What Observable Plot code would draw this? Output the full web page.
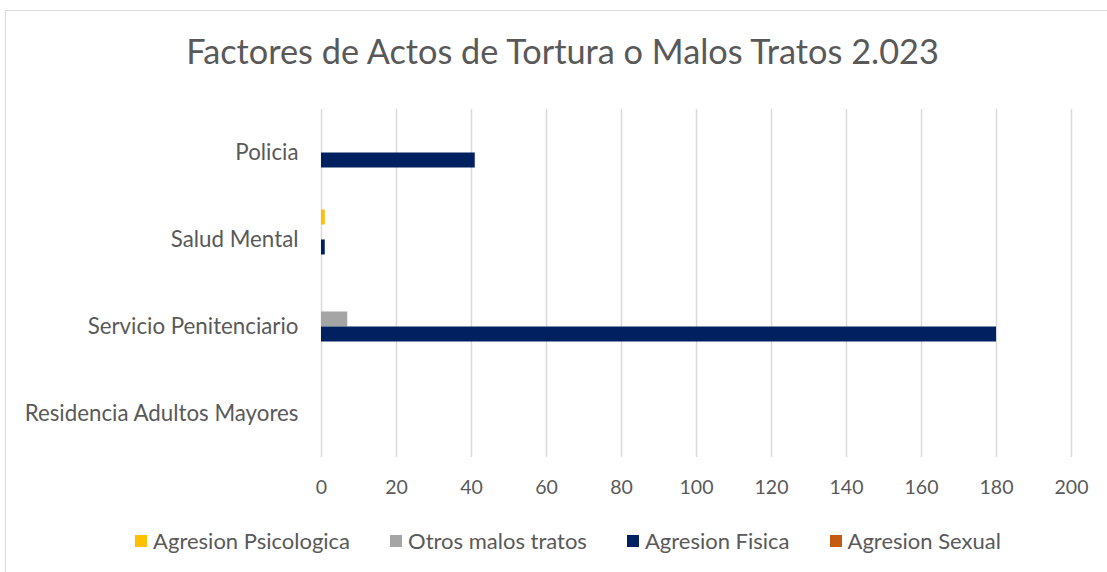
<!DOCTYPE html>
<html>
<head>
<meta charset="utf-8">
<script src="https://cdn.jsdelivr.net/npm/d3@7"></script>
<script src="https://cdn.jsdelivr.net/npm/@observablehq/plot@0.6"></script>
<style>
  html, body { margin: 0; padding: 0; background: #fff; }
  #wrap { position: relative; width: 1107px; height: 572px; overflow: hidden; font-family: Lato, "Open Sans", sans-serif; color: #595959; }
  #border { position: absolute; left: 5px; top: 10px; width: 1110px; height: 570px; border: 1px solid #d9d9d9; box-sizing: border-box; }
  #title { position: absolute; left: 0; top: 29px; width: 1125px; text-align: center; font-size: 34.3px; color: #595959; line-height: 44px; }
  #chart { position: absolute; left: 0; top: 0; }
  #legend { position: absolute; left: 0; top: 527px; width: 1136px; display: flex; justify-content: center; gap: 40px; font-size: 22px; color: #595959; line-height: 28px; }
  .item { display: flex; align-items: center; gap: 6px; }
  .sw { width: 12px; height: 12px; display: inline-block; }
</style>
</head>
<body>
<div id="wrap">
  <div id="border"></div>
  <div id="title">Factores de Actos de Tortura o Malos Tratos 2.023</div>
  <div id="chart"></div>
  <div id="legend"></div>
</div>
<script>
const categories = ["Policia", "Salud Mental", "Servicio Penitenciario", "Residencia Adultos Mayores"];
const series = ["Agresion Psicologica", "Otros malos tratos", "Agresion Fisica", "Agresion Sexual"];
const colors = ["#FFC000", "#A5A5A5", "#002060", "#C55A11"];
const psicologica = [0, 1, 0, 0];
const otrosMalosTratos = [0, 0, 7, 0];
const fisica = [41, 1, 180, 0];
const sexual = [0, 0, 0, 0];
const xTicks = [0, 20, 40, 60, 80, 100, 120, 140, 160, 180, 200];

const seriesValues = [psicologica, otrosMalosTratos, fisica, sexual];
const data = [];
categories.forEach((c, i) => {
  series.forEach((s, j) => {
    data.push({ category: c, series: s, value: seriesValues[j][i] });
  });
});

const chart = Plot.plot({
  width: 1107,
  height: 520,
  marginTop: 108.5,
  marginBottom: 63.5,
  marginLeft: 321,
  marginRight: 36,
  style: { fontFamily: "Lato, 'Open Sans', sans-serif", background: "transparent", color: "#595959" },
  x: { domain: [0, 200], label: null },
  fy: { domain: categories, padding: 0, label: null },
  y: { domain: series, paddingInner: 0, paddingOuter: 0.9, axis: null },
  color: { domain: series, range: colors },
  marks: [
    Plot.ruleX(xTicks, { x: d => d, stroke: "#d9d9d9", strokeWidth: 1.5 }),
    Plot.barX(data, { x: "value", y: "series", fy: "category", fill: "series" }),
    Plot.axisX({ ticks: xTicks, tickSize: 0, tickPadding: 23, fontSize: 19.5, fill: "#595959", label: null }),
    Plot.axisFy({ anchor: "left", tickSize: 0, tickPadding: 23, fontSize: 22.3, fill: "#595959", label: null })
  ]
});
document.getElementById("chart").appendChild(chart);

const legend = document.getElementById("legend");
series.forEach((s, i) => {
  const it = document.createElement("div");
  it.className = "item";
  const sw = document.createElement("span");
  sw.className = "sw";
  sw.style.background = colors[i];
  const t = document.createElement("span");
  t.textContent = s;
  it.appendChild(sw);
  it.appendChild(t);
  legend.appendChild(it);
});
</script>
</body>
</html>
